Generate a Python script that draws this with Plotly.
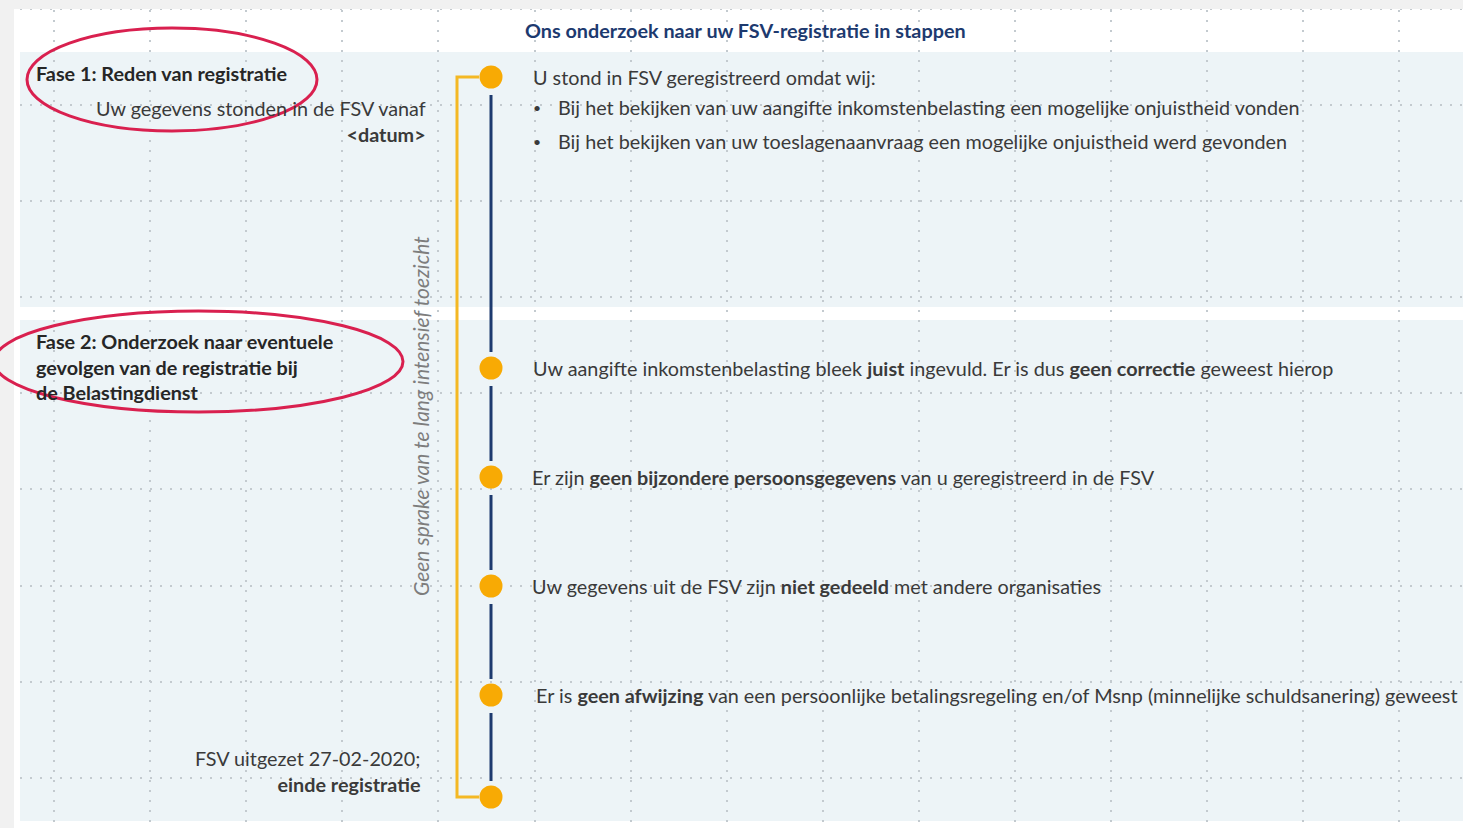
import plotly.graph_objects as go

W, H = 1463, 828
FONT = "Lato"
FS = 19.8
TXT = "#3a3a3a"
DARK = "#262626"
NAVY = "#1d3a6f"
YELLOW = "#f4b824"
ORANGE = "#f8aa04"
BAND = "#edf4f7"
RED = "#d9204f"
GRID = "#c3cacf"

title = "Ons onderzoek naar uw FSV-registratie in stappen"

# timeline steps (vertical position on the slide axis)
step_y = [77, 368, 477, 586, 695, 797]
step_x = 491

step_text = [
    "U stond in FSV geregistreerd omdat wij:",
    "Uw aangifte inkomstenbelasting bleek <b>juist</b> ingevuld. Er is dus <b>geen correctie</b> geweest hierop",
    "Er zijn <b>geen bijzondere persoonsgegevens</b> van u geregistreerd in de FSV",
    "Uw gegevens uit de FSV zijn <b>niet gedeeld</b> met andere organisaties",
    "Er is <b>geen afwijzing</b> van een persoonlijke betalingsregeling en/of Msnp (minnelijke schuldsanering) geweest",
]
step_text_x = [531, 531, 530, 530, 534]

bullets = [
    "Bij het bekijken van uw aangifte inkomstenbelasting een mogelijke onjuistheid vonden",
    "Bij het bekijken van uw toeslagenaanvraag een mogelijke onjuistheid werd gevonden",
]
bullet_y = [107, 141]

phase_titles = [
    "Fase 1: Reden van registratie",
    "Fase 2: Onderzoek naar eventuele<br>gevolgen van de registratie bij<br>de Belastingdienst",
]
phase_title_y = [73, 366]

left_notes = [
    ("Uw gegevens stonden in de FSV vanaf<br><b>&lt;datum&gt;</b>", 428, 121),
    ("FSV uitgezet 27-02-2020;<br><b>einde registratie</b>", 422, 771),
]

side_label = "Geen sprake van te lang intensief toezicht"

# bands (phase backgrounds): (top, bottom)
bands = [(52, 307), (320, 821)]

fig = go.Figure()

# blue connector segments between steps (with a gap around each node)
gap_top, gap_bot = 18, 16
seg_x, seg_y = [], []
for a, b in zip(step_y[:-1], step_y[1:]):
    seg_x += [step_x, step_x, None]
    seg_y += [a + gap_top, b - gap_bot, None]
fig.add_trace(go.Scatter(x=seg_x, y=seg_y, mode="lines",
                         line=dict(color=NAVY, width=3), hoverinfo="skip", showlegend=False))

# yellow bracket
bx = 457
fig.add_trace(go.Scatter(x=[step_x - 12, bx, bx, step_x - 12],
                         y=[step_y[0], step_y[0], step_y[-1], step_y[-1]],
                         mode="lines", line=dict(color=YELLOW, width=3),
                         hoverinfo="skip", showlegend=False))

# nodes
fig.add_trace(go.Scatter(x=[step_x] * len(step_y), y=step_y, mode="markers",
                         marker=dict(color=ORANGE, size=23, line=dict(width=0)),
                         hoverinfo="skip", showlegend=False))

shapes = []
for t, b in bands:
    shapes.append(dict(type="rect", xref="x", yref="y", x0=20, x1=W, y0=t, y1=b,
                       fillcolor=BAND, line=dict(width=0), layer="below"))
# outer grey frame
shapes.append(dict(type="rect", xref="x", yref="y", x0=0, x1=14, y0=0, y1=H,
                   fillcolor="#f1f1f1", line=dict(width=0), layer="above"))
shapes.append(dict(type="rect", xref="x", yref="y", x0=0, x1=W, y0=0, y1=9,
                   fillcolor="#f1f1f1", line=dict(width=0), layer="above"))
# red ellipses
shapes.append(dict(type="circle", xref="x", yref="y", x0=27, x1=317, y0=28, y1=131,
                   line=dict(color=RED, width=3), layer="above"))
shapes.append(dict(type="circle", xref="x", yref="y", x0=-6, x1=403, y0=311, y1=412,
                   line=dict(color=RED, width=3), layer="above"))

ann = []
ann.append(dict(text=f"<b>{title}</b>", x=745, y=30, xanchor="center", yanchor="middle",
                font=dict(family=FONT, size=FS, color=NAVY)))
for i, (t, y) in enumerate(zip(phase_titles, phase_title_y)):
    ann.append(dict(text=f"<b>{t}</b>", x=34, y=y, xanchor="left", yanchor="middle", align="left",
                    font=dict(family=FONT, size=FS, color=DARK)))
for t, x, y in left_notes:
    ann.append(dict(text=t, x=x, y=y, xanchor="right", yanchor="middle", align="right",
                    font=dict(family=FONT, size=FS, color=TXT)))
for t, x, y in zip(step_text, step_text_x, [step_y[0]] + step_y[1:5]):
    ann.append(dict(text=t, x=x, y=y, xanchor="left", yanchor="middle", align="left",
                    font=dict(family=FONT, size=FS, color=TXT)))
for t, y in zip(bullets, bullet_y):
    ann.append(dict(text="•", x=537, y=y, xanchor="center", yanchor="middle",
                    font=dict(family=FONT, size=14, color=TXT)))
    ann.append(dict(text=t, x=556, y=y, xanchor="left", yanchor="middle", align="left",
                    font=dict(family=FONT, size=FS, color=TXT)))
ann.append(dict(text=f"<i>{side_label}</i>", x=420, y=416, textangle=-90,
                xanchor="center", yanchor="middle",
                font=dict(family=FONT, size=21, color="#7d7d7d")))
for a in ann:
    a.update(xref="x", yref="y", showarrow=False)

fig.update_layout(
    width=W, height=H, margin=dict(l=0, r=0, t=0, b=0),
    paper_bgcolor="#ffffff", plot_bgcolor="#ffffff",
    shapes=shapes, annotations=ann, showlegend=False,
    xaxis=dict(range=[0, W], showticklabels=False, ticks="", zeroline=False,
               showgrid=True, gridcolor=GRID, gridwidth=1.5, griddash="2px,8px",
               tick0=54, dtick=96.1, fixedrange=True),
    yaxis=dict(range=[H, 0], showticklabels=False, ticks="", zeroline=False,
               showgrid=True, gridcolor=GRID, gridwidth=1.5, griddash="2px,8px",
               tick0=105, dtick=96.1, fixedrange=True),
)

fig.write_html("out.html", config=dict(displayModeBar=False),
               post_script="document.body.style.margin='0';document.body.style.overflow='hidden';")
